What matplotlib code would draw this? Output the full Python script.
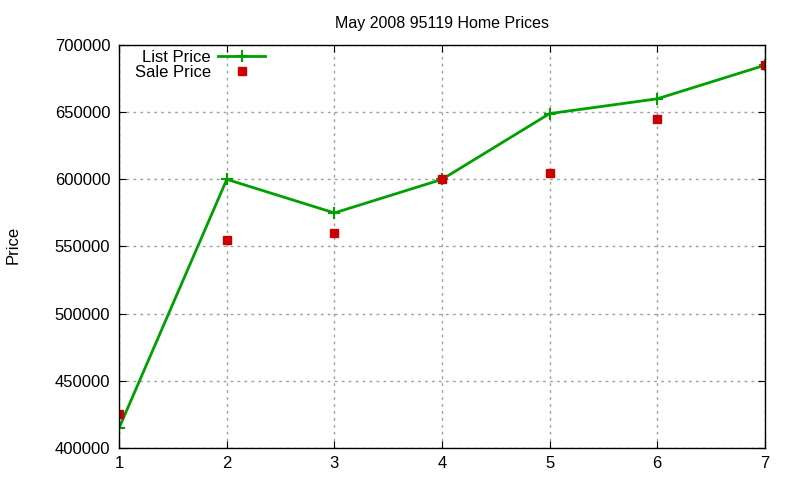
import matplotlib
matplotlib.use('Agg')
import matplotlib.pyplot as plt

plt.rcParams['font.family'] = ['Liberation Sans', 'DejaVu Sans']

# data
months = [1, 2, 3, 4, 5, 6, 7]
list_price = [415000, 600000, 575000, 600000, 649000, 660000, 685000]
sale_price = [425000, 555000, 560000, 600000, 605000, 645000, 685000]

fig = plt.figure(figsize=(8, 4.8), dpi=100)
ax = fig.add_axes([0.149, 0.067, 0.807, 0.839])

ax.plot(months, list_price, color='#00a000', lw=2, marker='+', ms=9, mew=1.5,
        label='List Price')
ax.plot(months, sale_price, ls='none', color='#cc0000', marker='s', ms=6,
        label='Sale Price')

ax.set_xlim(1, 7)
ax.set_ylim(400000, 700000)
ax.set_xticks(months)
ax.set_yticks(range(400000, 700001, 50000))
ax.tick_params(direction='in', top=True, right=True, labelsize=12, length=5)
ax.tick_params(axis='y', pad=6.5)
ax.tick_params(axis='x', pad=6)
ax.grid(True, color='#a0a0a0', ls=(0, (2, 3)), lw=1)
for s in ax.spines.values():
    s.set_linewidth(1)

ax.set_title('May 2008 95119 Home Prices', fontsize=11.5, pad=12)
fig.text(0.016, 0.49, 'Price', rotation=90, fontsize=12, ha='center', va='center')

leg = ax.legend(loc='upper right', bbox_to_anchor=(0.236, 1.005), frameon=False,
                markerfirst=False, fontsize=12, handlelength=2.8,
                labelspacing=0.0, borderaxespad=0.0, handletextpad=0.45)
for t in leg.get_texts():
    t.set_ha('right')

fig.savefig('out.png', dpi=100)
